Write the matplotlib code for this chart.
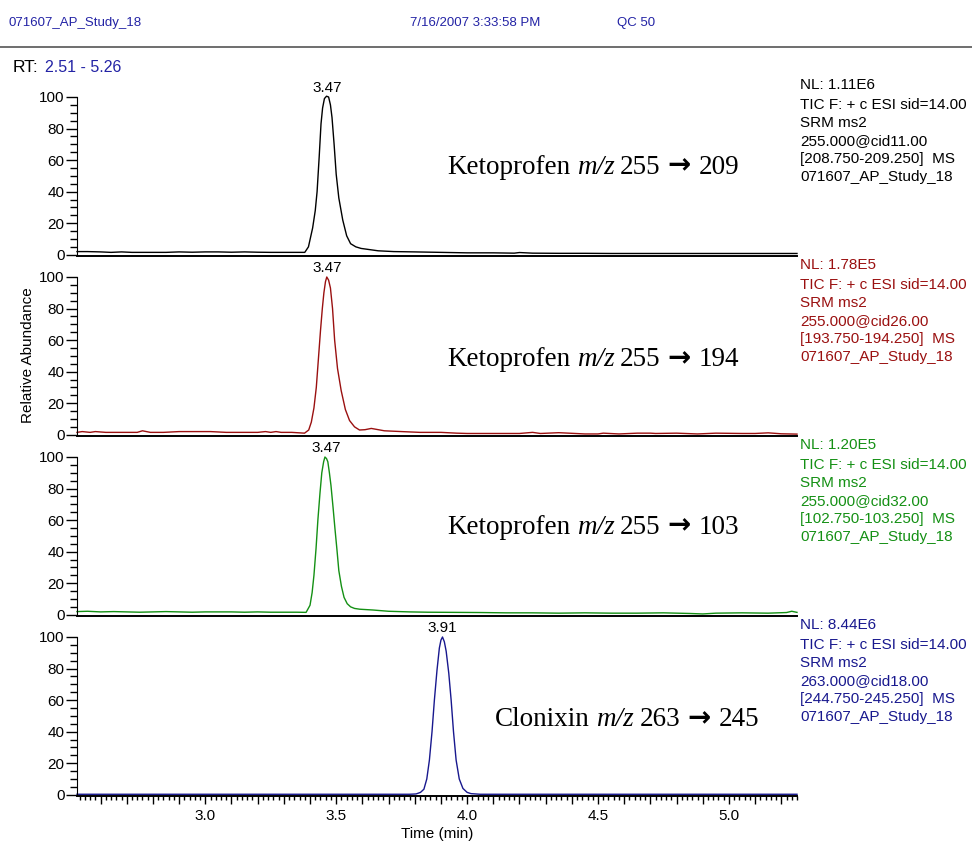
import matplotlib
matplotlib.use("Agg")
import matplotlib.pyplot as plt
from matplotlib.ticker import MultipleLocator, FuncFormatter
from matplotlib.transforms import offset_copy

plt.rcParams['font.family'] = ['Liberation Sans', 'DejaVu Sans']

# ---- data (time in min, relative abundance in %) ----
t_209 = [2.51, 2.55, 2.60, 2.64, 2.68, 2.72, 2.76, 2.80, 2.85, 2.90, 2.95, 3.00, 3.05,
         3.10, 3.15, 3.20, 3.25, 3.30, 3.35, 3.38, 3.394, 3.41, 3.42, 3.427, 3.435, 3.442,
         3.448, 3.455, 3.463, 3.471, 3.478, 3.484, 3.492, 3.50, 3.51, 3.525, 3.54, 3.555,
         3.575, 3.595, 3.66, 3.72, 3.80, 3.90, 4.00, 4.10,
         4.18, 4.20, 4.25, 4.35, 4.45, 4.55, 4.65, 4.75, 4.85, 4.95, 5.05, 5.15, 5.26]
y_209 = [2.0, 2.0, 1.8, 1.5, 1.8, 1.5, 1.5, 1.5, 1.5, 1.8, 1.6, 1.8, 1.8,
         1.6, 1.8, 1.6, 1.5, 1.5, 1.5, 1.5, 5, 17, 28, 40, 62, 83,
         93, 99, 100.5, 100, 95, 87, 70, 51, 36, 22, 12, 7,
         5, 4, 2.5, 2.0, 1.8, 1.5, 1.2, 1.2,
         1.0, 1.4, 1.0, 0.9, 0.9, 0.8, 0.8, 0.8, 0.8, 0.8, 0.8, 0.8, 0.8]

t_194 = [2.51, 2.53, 2.56, 2.58, 2.62, 2.66, 2.70, 2.74, 2.76, 2.79, 2.84, 2.90, 2.96,
         3.02, 3.08, 3.14, 3.20, 3.23, 3.25, 3.27, 3.29, 3.33, 3.379, 3.395, 3.405, 3.415,
         3.424, 3.432, 3.44, 3.447, 3.453, 3.459, 3.464, 3.471, 3.478, 3.486, 3.494, 3.505,
         3.519, 3.535, 3.551, 3.57, 3.589, 3.61, 3.634, 3.684, 3.75,
         3.82, 3.90, 3.96, 4.00, 4.10, 4.20, 4.25, 4.28, 4.35, 4.45, 4.50, 4.52, 4.58,
         4.65, 4.70, 4.72, 4.80, 4.88, 4.95, 5.05, 5.10, 5.15, 5.20, 5.26]
y_194 = [1.5, 2.0, 1.5, 2.0, 1.5, 1.5, 1.5, 1.5, 2.5, 1.5, 1.5, 2.0, 2.0,
         2.0, 1.5, 1.5, 1.5, 2.0, 1.5, 2.0, 1.5, 1.5, 1.0, 3, 8, 17,
         30, 48, 66, 80, 90, 97, 100, 98, 93, 80, 60, 42,
         28, 16, 9, 5, 3, 3.2, 4, 2.5, 2.0,
         1.5, 1.5, 1.0, 0.8, 0.8, 0.8, 1.5, 0.8, 1.3, 0.5, 0.5, 1.0, 0.5,
         1.0, 1.0, 0.8, 1.0, 0.5, 1.0, 0.8, 0.8, 1.2, 0.6, 0.4]

t_103 = [2.51, 2.55, 2.60, 2.65, 2.70, 2.75, 2.80, 2.85, 2.90, 2.95, 3.00, 3.05, 3.10,
         3.15, 3.20, 3.25, 3.30, 3.35, 3.385, 3.40, 3.408, 3.415, 3.423, 3.43, 3.438, 3.445,
         3.452, 3.457, 3.463, 3.468, 3.474, 3.48, 3.488, 3.495, 3.503, 3.51, 3.52, 3.53,
         3.542, 3.555, 3.57, 3.59, 3.64, 3.70, 3.78, 3.85, 3.95, 4.05,
         4.15, 4.25, 4.35, 4.45, 4.55, 4.65, 4.75, 4.85, 4.90, 4.95, 5.05, 5.15, 5.22, 5.24, 5.26]
y_103 = [2.0, 2.2, 1.8, 2.0, 1.8, 1.6, 1.8, 2.0, 1.8, 1.6, 1.8, 1.8, 1.8,
         1.6, 1.8, 1.6, 1.6, 1.6, 1.5, 6, 14, 25, 42, 60, 77, 90,
         97, 100, 99, 97, 90, 82, 68, 55, 41, 28, 18, 11,
         7, 5, 4, 3.5, 3.0, 2.2, 1.8, 1.6, 1.5, 1.4,
         1.2, 1.2, 1.0, 1.2, 1.0, 1.0, 1.2, 0.8, 0.5, 1.0, 1.2, 1.0, 1.4, 2.2, 1.5]

t_245 = [2.51, 2.80, 3.10, 3.40, 3.70, 3.78, 3.805, 3.822, 3.835, 3.846, 3.856, 3.866,
         3.875, 3.885, 3.894, 3.90, 3.906, 3.913, 3.92, 3.93, 3.939, 3.948, 3.958, 3.97,
         3.984, 4.00, 4.015, 4.05, 4.30, 4.60, 4.90, 5.26]
y_245 = [0.3, 0.3, 0.3, 0.3, 0.3, 0.3, 0.5, 1.5, 3.5, 10, 22, 40,
         60, 79, 93, 98, 100, 97, 91, 77, 60, 40, 22, 10,
         4, 1.5, 0.7, 0.3, 0.3, 0.3, 0.3, 0.3]

times = [t_209, t_194, t_103, t_245]
values = [y_209, y_194, y_103, y_245]
apex_times = ["3.47", "3.47", "3.47", "3.91"]
apex_pos = [3.466, 3.466, 3.462, 3.906]
colors = ["black", "#9a1010", "#149014", "#18188e"]
compounds = ["Ketoprofen", "Ketoprofen", "Ketoprofen", "Clonixin"]
precursor = ["255", "255", "255", "263"]
product = ["209", "194", "103", "245"]
label_pos = [(3.925, 51.5), (3.925, 43.5), (3.925, 51.5), (4.107, 43.5)]  # baseline
info = [["NL: 1.11E6", "TIC F: + c ESI sid=14.00", "SRM ms2", "255.000@cid11.00",
         "[208.750-209.250]  MS", "071607_AP_Study_18"],
        ["NL: 1.78E5", "TIC F: + c ESI sid=14.00", "SRM ms2", "255.000@cid26.00",
         "[193.750-194.250]  MS", "071607_AP_Study_18"],
        ["NL: 1.20E5", "TIC F: + c ESI sid=14.00", "SRM ms2", "255.000@cid32.00",
         "[102.750-103.250]  MS", "071607_AP_Study_18"],
        ["NL: 8.44E6", "TIC F: + c ESI sid=14.00", "SRM ms2", "263.000@cid18.00",
         "[244.750-245.250]  MS", "071607_AP_Study_18"]]

W, H = 972, 843
fig = plt.figure(figsize=(W / 100, H / 100), dpi=100)
renderer = fig.canvas.get_renderer()

# header
hdr = "#2323a5"
fig.text(8 / W, 1 - 23 / H, "071607_AP_Study_18", color=hdr, fontsize=9.5, va="center")
fig.text(410 / W, 1 - 23 / H, "7/16/2007 3:33:58 PM", color=hdr, fontsize=9.5, va="center")
fig.text(617 / W, 1 - 23 / H, "QC 50", color=hdr, fontsize=9.5, va="center")
fig.add_artist(plt.Line2D([0, 1], [1 - 47 / H, 1 - 47 / H], color="#555555", lw=1.2))
fig.text(13 / W, 1 - 67 / H, "RT:", color="black", fontsize=12.5, va="center")
fig.text(45 / W, 1 - 67 / H, "2.51 - 5.26", color=hdr, fontsize=11.5, va="center")

line_off = [0, 20, 38, 56, 74, 92.5]
serif = dict(fontsize=19.5, family="Liberation Serif")
arrow = dict(fontsize=20, family="DejaVu Sans", fontweight="bold")
gaps = [6, 6, 7, 8, 0]  # pixels after each piece


def compound_label(ax, x, y, i):
    # pieces on one baseline: name, italic m/z, precursor, bold arrow, product
    pieces = [(compounds[i], serif, {}), ("m/z", serif, {"style": "italic"}),
              (precursor[i], serif, {}), ("\u2192", arrow, {}),
              (product[i], serif, {})]
    dx = 0
    for (s, base, extra), g in zip(pieces, gaps):
        tr = offset_copy(ax.transData, fig=fig, x=dx, y=0, units="dots")
        t = ax.text(x, y, s, ha="left", va="baseline", transform=tr, **base, **extra)
        dx += t.get_window_extent(renderer).width + g


for i in range(4):
    y0 = 256 + 180 * i
    ax = fig.add_axes([77 / W, 1 - y0 / H, 720 / W, 159 / H])
    ax.plot(times[i], values[i], color=colors[i], lw=1.0, clip_on=False)
    ax.set_xlim(2.51, 5.26)
    ax.set_ylim(-0.8, 100)
    for s in ["top", "right"]:
        ax.spines[s].set_visible(False)
    ax.spines["left"].set_bounds(0, 100)
    ax.spines["bottom"].set_linewidth(1.4)
    ax.yaxis.set_major_locator(MultipleLocator(20))
    ax.yaxis.set_minor_locator(MultipleLocator(5))
    ax.tick_params(axis="y", which="major", length=8, width=1, labelsize=11, pad=1)
    ax.tick_params(axis="y", which="minor", length=5, width=1)
    if i < 3:
        ax.tick_params(axis="x", which="both", bottom=False, labelbottom=False)
    else:
        ax.xaxis.set_major_locator(MultipleLocator(0.1))
        ax.xaxis.set_minor_locator(MultipleLocator(0.02))
        ax.xaxis.set_major_formatter(FuncFormatter(
            lambda v, p: f"{v:.1f}" if abs(v * 2 - round(v * 2)) < 1e-6 else ""))
        ax.tick_params(axis="x", which="major", length=6, width=1, labelsize=11, pad=3)
        ax.tick_params(axis="x", which="minor", length=3, width=1)
        ax.set_xlabel("Time (min)", fontsize=11, labelpad=3)
    ax.text(apex_pos[i], 101, apex_times[i], ha="center", va="bottom", fontsize=11)
    compound_label(ax, label_pos[i][0], label_pos[i][1], i)
    for k, s in enumerate(info[i]):
        fig.text(800 / W, 1 - (85 + 180 * i + line_off[k]) / H, s, color=colors[i],
                 fontsize=11, va="center", ha="left")

fig.text(28 / W, 1 - 355 / H, "Relative Abundance", rotation=90, fontsize=11,
         ha="center", va="center")

fig.savefig("out.png", dpi=100)
